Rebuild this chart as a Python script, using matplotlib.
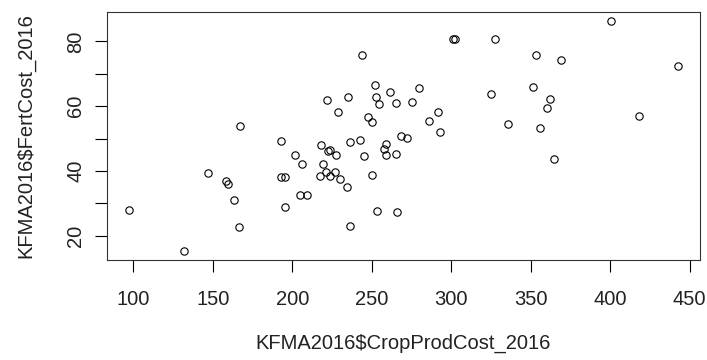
import matplotlib
matplotlib.use("Agg")
import matplotlib.pyplot as plt
import numpy as np

# KFMA 2016: crop production cost vs fertilizer cost ($/acre)
crop_prod_cost = [
    97.1, 131.9, 166.8, 147.2, 158.6, 159.8, 163.6, 166.4, 193.0, 201.8,
    193.2, 195.3, 195.5, 244.0, 300.9, 302.4, 327.3, 324.8, 335.5, 252.0,
    261.2, 279.7, 221.8, 235.2, 252.6, 254.3, 265.4, 275.1, 228.9, 247.4,
    250.3, 291.7, 286.2, 293.1, 268.6, 272.0, 236.0, 242.3, 217.8, 224.0,
    222.4, 227.5, 205.8, 219.3, 245.2, 258.7, 257.8, 258.7, 265.4, 221.2,
    223.4, 226.8, 217.6, 229.7, 234.6, 250.3, 204.8, 209.2, 253.4, 266.0,
    236.0, 400.4, 353.6, 369.3, 442.6, 351.1, 362.2, 360.1, 418.0, 355.9,
    364.7,
]
fert_cost = [
    28.1, 15.4, 53.9, 39.5, 36.8, 36.0, 31.2, 22.7, 49.2, 44.9,
    38.2, 38.2, 29.0, 75.8, 80.7, 80.7, 80.7, 63.6, 54.4, 66.4,
    64.5, 65.6, 61.8, 62.8, 62.8, 60.6, 61.0, 61.4, 58.3, 56.6,
    55.0, 58.3, 55.5, 51.9, 50.9, 50.1, 48.8, 49.7, 48.1, 46.6,
    46.1, 45.0, 42.3, 42.3, 44.6, 48.2, 46.9, 45.0, 45.3, 39.7,
    38.5, 39.7, 38.3, 37.5, 35.2, 38.7, 32.5, 32.5, 27.8, 27.4,
    23.1, 86.3, 75.8, 74.1, 72.3, 66.0, 62.1, 59.4, 57.1, 53.2,
    43.8,
]

x_ticks = [100, 150, 200, 250, 300, 350, 400, 450]
y_ticks = [20, 30, 40, 50, 60, 70, 80]
y_tick_labels = ["20", "", "40", "", "60", "", "80"]

plt.rcParams["font.family"] = ["Liberation Sans", "DejaVu Sans"]

fig = plt.figure(figsize=(7.07, 3.6), dpi=100)
ax = fig.add_axes([0.151, 0.278, 0.839, 0.6895])

ax.plot(crop_prod_cost, fert_cost, linestyle="none", marker="o",
        markersize=5.3, markerfacecolor="none", markeredgecolor="black",
        markeredgewidth=0.8)

# R-style 4% padding
x = np.array(crop_prod_cost)
y = np.array(fert_cost)
dx = (x.max() - x.min()) * 0.04
dy = (y.max() - y.min()) * 0.04
ax.set_xlim(x.min() - dx, x.max() + dx)
ax.set_ylim(y.min() - dy, y.max() + dy)

ax.set_xticks(x_ticks)
ax.set_yticks(y_ticks)
ax.set_yticklabels(y_tick_labels, rotation=90, va="center")

ax.tick_params(direction="out", length=8.4, width=0.8, color="black",
               labelsize=14.5, labelcolor="#222222")
ax.tick_params(axis="x", pad=13)
ax.tick_params(axis="y", pad=7)

for s in ax.spines.values():
    s.set_linewidth(0.8)
    s.set_color("#333333")

ax.set_xlabel("KFMA2016$CropProdCost_2016", fontsize=14.5, color="#222222",
              labelpad=18)
ax.set_ylabel("KFMA2016$FertCost_2016", fontsize=14.5, color="#222222",
              labelpad=22)

fig.savefig("out.png", dpi=100)
